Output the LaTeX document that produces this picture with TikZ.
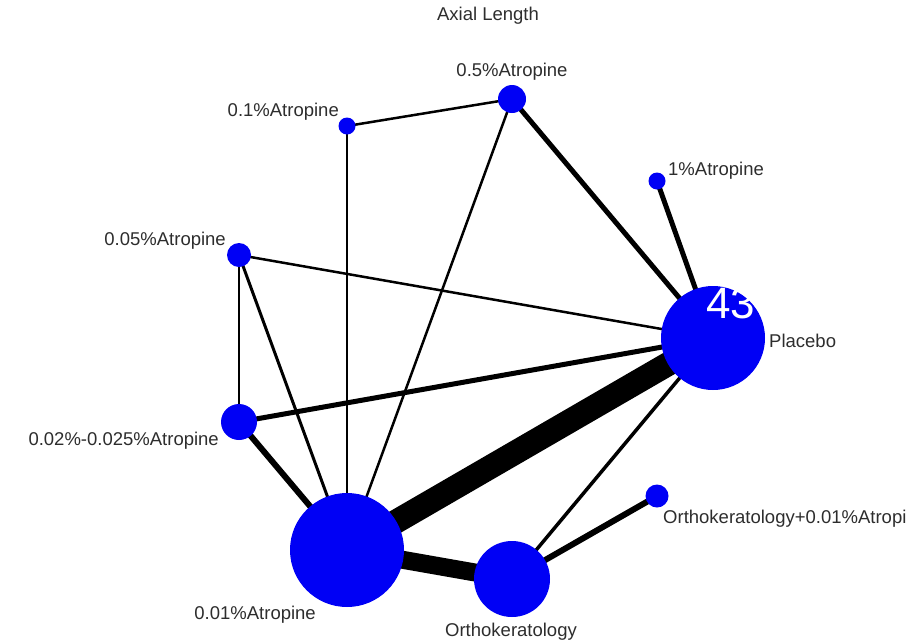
\documentclass[tikz,border=0pt]{standalone}
\usepackage{fontspec}
\setmainfont{Liberation Sans}
\usetikzlibrary{backgrounds}
\definecolor{nodeblue}{RGB}{0,0,245}
\definecolor{labelgray}{RGB}{45,45,45}
\begin{document}
\begin{tikzpicture}[x=1pt,y=-1pt,
  trt/.style={circle,fill=nodeblue,draw=none,inner sep=0pt,minimum size=#1},
  lab/.style={inner sep=0pt,text=labelgray,font=\fontsize{18.5}{20}\selectfont},
  ttl/.style={inner sep=0pt,text=labelgray,font=\fontsize{18.5}{20}\selectfont},
  cx/.style={line width=#1,draw=black}]
\useasboundingbox (0,0) rectangle (912,643);
% treatment nodes
\node[trt=28pt] (a05) at (512,99) {};
\node[trt=17pt] (a01) at (347,126) {};
\node[trt=17pt] (a1) at (657,181) {};
\node[trt=24pt] (a005) at (239,255) {};
\node[trt=104pt] (pla) at (713,338) {};
\node[trt=36pt] (a002) at (239,422) {};
\node[trt=23pt] (okat) at (657,496) {};
\node[trt=114pt] (a001) at (347,550) {};
\node[trt=76pt] (ok) at (512,579) {};
% connectors
\begin{scope}[on background layer]
\draw[cx=2.5pt] (a01.center) -- (a05.center);
\draw[cx=2.5pt] (a01.center) -- (a001.center);
\draw[cx=2.5pt] (a05.center) -- (a001.center);
\draw[cx=5pt] (a05.center) -- (pla.center);
\draw[cx=5pt] (a1.center) -- (pla.center);
\draw[cx=2.5pt] (a005.center) -- (pla.center);
\draw[cx=2.5pt] (a005.center) -- (a002.center);
\draw[cx=3pt] (a005.center) -- (a001.center);
\draw[cx=5pt] (a002.center) -- (pla.center);
\draw[cx=6pt] (a002.center) -- (a001.center);
\draw[cx=24pt] (a001.center) -- (pla.center);
\draw[cx=18pt] (a001.center) -- (ok.center);
\draw[cx=3.5pt] (ok.center) -- (pla.center);
\draw[cx=6pt] (ok.center) -- (okat.center);
\end{scope}
% labels
\node[ttl] (title) at (488,16) {Axial Length};
\node[lab] (l05) at (512,72) {0.5\%Atropine};
\node[lab,anchor=east] (l01) at (339,112) {0.1\%Atropine};
\node[lab,anchor=west] (l1) at (668,171) {1\%Atropine};
\node[lab,anchor=east] (l005) at (226,241) {0.05\%Atropine};
\node[lab,anchor=west] (lpla) at (769,341) {Placebo};
\node[lab,anchor=east] (l002) at (219,441) {0.02\%-0.025\%Atropine};
\node[lab,anchor=east] (l001) at (316,615) {0.01\%Atropine};
\node[lab] (lok) at (511,632) {Orthokeratology};
\node[lab,anchor=west] (lokat) at (663,519) {Orthokeratology+0.01\%Atropi};
\node[inner sep=0pt,anchor=base west,text=white,font=\fontsize{44}{46}\selectfont] (num) at (706,318) {43};
\end{tikzpicture}
\end{document}
